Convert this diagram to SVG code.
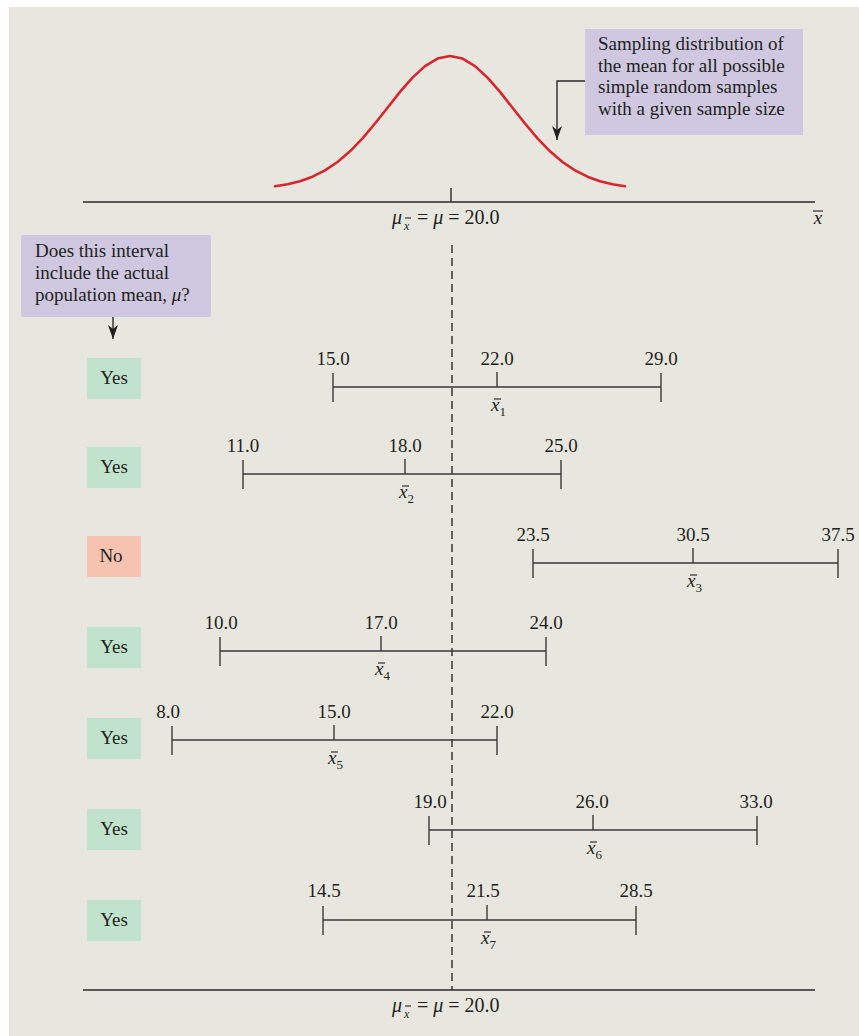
<svg xmlns="http://www.w3.org/2000/svg" width="859" height="1036" viewBox="0 0 859 1036">
<style>
text{font-family:"Liberation Serif","Times New Roman",serif;fill:#231f20;font-size:19px}
.v{text-anchor:middle}
.it{font-style:italic}
.sub{font-size:13px}
.mu{font-size:20px}
.bar{stroke:#231f20;stroke-width:1.1}
.ln{stroke:#3a3a3a;stroke-width:1.4;fill:none}
.ax{stroke:#2a2a2a;stroke-width:1.4;fill:none}
.yes{fill:#c1e3cd}
.no{fill:#f5c3b0}
.note{fill:#cfc8e0}
</style>
<defs>
<marker id="ahd" markerWidth="10" markerHeight="14" refX="5" refY="14" markerUnits="userSpaceOnUse" viewBox="0 0 10 14">
<path d="M0,0 L5,4 L10,0 L5,14 Z" fill="#231f20"/>
</marker>
</defs>
<rect width="859" height="1036" fill="#ffffff"/>
<rect x="9" y="7" width="850" height="1029" fill="#e8e7df"/>

<g id="top-axis">
<line class="ax" x1="83" y1="202" x2="815" y2="202"/>
<line class="ax" x1="451" y1="188" x2="451" y2="202"/>
<text class="mu" y="224"><tspan class="it" x="392">μ</tspan><tspan class="it" font-size="12" x="404" y="230">x</tspan><tspan x="412" y="224"> = </tspan><tspan class="it">μ</tspan><tspan> = 20.0</tspan></text>
<line class="bar" x1="405" y1="218" x2="411" y2="218"/>
<text x="818" y="224" class="v it">x</text>
<line class="bar" x1="813" y1="211" x2="823" y2="211"/>
</g>

<g id="curve">
<polyline fill="none" stroke="#d7262e" stroke-width="2.6" stroke-linejoin="round" stroke-linecap="round" points="275,186.2 287.5,184.2 300,181.2 312.5,176.7 325,170.4 337.5,162 350,151.3 362.5,138.3 375,123.5 387.5,107.7 400,91.9 412.5,77.6 425,66.1 437.5,58.6 450,56 462.5,58.6 475,66.1 487.5,77.6 500,91.9 512.5,107.7 525,123.5 537.5,138.3 550,151.3 562.5,162 575,170.4 587.5,176.7 600,181.2 612.5,184.2 625,186.2"/>
</g>

<g id="note-sampling">
<rect class="note" x="585" y="29" width="218" height="106"/>
<text x="598" y="50">Sampling distribution of</text>
<text x="598" y="72">the mean for all possible</text>
<text x="598" y="93">simple random samples</text>
<text x="598" y="115">with a given sample size</text>
</g>

<g id="note-interval">
<rect class="note" x="21" y="235" width="190" height="82"/>
<text x="35" y="257">Does this interval</text>
<text x="35" y="279">include the actual</text>
<text x="35" y="301">population mean, <tspan class="it">μ</tspan>?</text>
</g>

<g id="connectors">
<polyline class="ax" points="585,81 557,81 557,140" marker-end="url(#ahd)"/>
<line class="ax" x1="113" y1="317" x2="113" y2="339" marker-end="url(#ahd)"/>
<line x1="452" y1="245" x2="452" y2="990" stroke="#2a2a2a" stroke-width="1.4" stroke-dasharray="8 5"/>
</g>

<g id="answers">
<g id="a1"><rect class="yes" x="87" y="358" width="54" height="41"/><text class="v" x="114" y="384">Yes</text></g>
<g id="a2"><rect class="yes" x="87" y="447" width="54" height="41"/><text class="v" x="114" y="473">Yes</text></g>
<g id="a3"><rect class="no" x="87" y="536" width="54" height="41"/><text class="v" x="111" y="562">No</text></g>
<g id="a4"><rect class="yes" x="87" y="627" width="54" height="41"/><text class="v" x="114" y="653">Yes</text></g>
<g id="a5"><rect class="yes" x="87" y="718" width="54" height="41"/><text class="v" x="114" y="744">Yes</text></g>
<g id="a6"><rect class="yes" x="87" y="809" width="54" height="41"/><text class="v" x="114" y="835">Yes</text></g>
<g id="a7"><rect class="yes" x="87" y="900" width="54" height="41"/><text class="v" x="114" y="926">Yes</text></g>
</g>

<g id="interval1">
<path class="ln" d="M333,387 H661 M333,373 V402 M661,373 V402 M497,372 V387"/>
<text class="v" x="333" y="365">15.0</text><text class="v" x="497" y="365">22.0</text><text class="v" x="661" y="365">29.0</text>
<text x="491" y="411"><tspan class="it">x</tspan><tspan class="sub" y="416">1</tspan></text>
<line class="bar" x1="494" y1="399" x2="501" y2="399"/>
</g>
<g id="interval2">
<path class="ln" d="M243,474 H561 M243,460 V489 M561,460 V489 M405,459 V474"/>
<text class="v" x="243" y="452">11.0</text><text class="v" x="405" y="452">18.0</text><text class="v" x="561" y="452">25.0</text>
<text x="399" y="498"><tspan class="it">x</tspan><tspan class="sub" y="503">2</tspan></text>
<line class="bar" x1="402" y1="486" x2="409" y2="486"/>
</g>
<g id="interval3">
<path class="ln" d="M533,563 H838 M533,549 V578 M838,549 V578 M693,548 V563"/>
<text class="v" x="533" y="541">23.5</text><text class="v" x="693" y="541">30.5</text><text class="v" x="838" y="541">37.5</text>
<text x="687" y="587"><tspan class="it">x</tspan><tspan class="sub" y="592">3</tspan></text>
<line class="bar" x1="690" y1="575" x2="697" y2="575"/>
</g>
<g id="interval4">
<path class="ln" d="M220,651 H546 M220,637 V666 M546,637 V666 M381,636 V651"/>
<text class="v" x="221" y="629">10.0</text><text class="v" x="381" y="629">17.0</text><text class="v" x="546" y="629">24.0</text>
<text x="375" y="675"><tspan class="it">x</tspan><tspan class="sub" y="680">4</tspan></text>
<line class="bar" x1="378" y1="663" x2="385" y2="663"/>
</g>
<g id="interval5">
<path class="ln" d="M172,740 H497 M172,726 V755 M497,726 V755 M334,725 V740"/>
<text class="v" x="168" y="718">8.0</text><text class="v" x="334" y="718">15.0</text><text class="v" x="497" y="718">22.0</text>
<text x="328" y="764"><tspan class="it">x</tspan><tspan class="sub" y="769">5</tspan></text>
<line class="bar" x1="331" y1="752" x2="338" y2="752"/>
</g>
<g id="interval6">
<path class="ln" d="M429,830 H757 M429,816 V845 M757,816 V845 M593,815 V830"/>
<text class="v" x="430" y="808">19.0</text><text class="v" x="592" y="808">26.0</text><text class="v" x="756" y="808">33.0</text>
<text x="587" y="854"><tspan class="it">x</tspan><tspan class="sub" y="859">6</tspan></text>
<line class="bar" x1="590" y1="842" x2="597" y2="842"/>
</g>
<g id="interval7">
<path class="ln" d="M323,920 H636 M323,906 V935 M636,906 V935 M487,905 V920"/>
<text class="v" x="324" y="897">14.5</text><text class="v" x="483" y="897">21.5</text><text class="v" x="636" y="897">28.5</text>
<text x="481" y="944"><tspan class="it">x</tspan><tspan class="sub" y="949">7</tspan></text>
<line class="bar" x1="484" y1="932" x2="491" y2="932"/>
</g>

<g id="bottom-axis">
<line class="ax" x1="83" y1="990" x2="815" y2="990"/>
<text class="mu" y="1012"><tspan class="it" x="392">μ</tspan><tspan class="it" font-size="12" x="404" y="1018">x</tspan><tspan x="412" y="1012"> = </tspan><tspan class="it">μ</tspan><tspan> = 20.0</tspan></text>
<line class="bar" x1="405" y1="1006" x2="411" y2="1006"/>
</g>
</svg>
